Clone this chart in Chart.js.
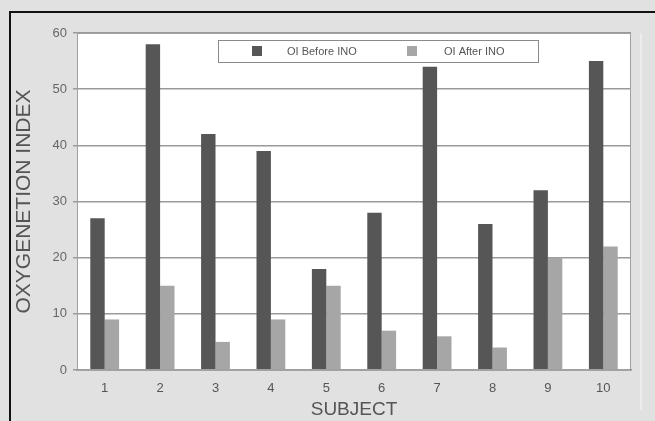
<!DOCTYPE html>
<html>
<head>
    <title>Oxygenation index by subject</title>
    <meta http-equiv="content-type" content="text/html; charset=UTF-8"/>
    <script src="https://cdn.jsdelivr.net/npm/chart.js@4.4.0/dist/chart.umd.min.js"></script>
    <style>
        html, body {
            margin: 0;
            padding: 0;
            background: #e1e1e1;
        }
        #wrap {
            position: absolute;
            left: 0;
            top: 0;
            width: 655px;
            height: 421px;
        }
    </style>
</head>
<body>
<div id="wrap">
    <canvas id="canvas" width="655" height="421"></canvas>
</div>
<script>
    // values
    var subjects = ['1', '2', '3', '4', '5', '6', '7', '8', '9', '10'];
    var oiBefore = [27, 58, 42, 39, 18, 28, 54, 26, 32, 55];
    var oiAfter = [9, 15, 5, 9, 15, 7, 6, 4, 20, 22];
    var seriesNames = ['OI Before INO', 'OI After INO'];
    var yTicks = [0, 10, 20, 30, 40, 50, 60];

    // grey page, black frame, white plot area
    var backdrop = {
        id: 'backdrop',
        beforeDraw: function(chart) {
            var ctx = chart.ctx;
            var a = chart.chartArea;
            ctx.save();
            ctx.fillStyle = '#e1e1e1';
            ctx.fillRect(0, 0, chart.width, chart.height);
            ctx.fillStyle = '#ffffff';
            ctx.fillRect(a.left, a.top, a.right - a.left, a.bottom - a.top);
            ctx.strokeStyle = '#111111';
            ctx.lineWidth = 2;
            ctx.beginPath();
            ctx.moveTo(10, chart.height);
            ctx.lineTo(10, 12);
            ctx.lineTo(chart.width, 12);
            ctx.stroke();
            ctx.strokeStyle = '#ececec';
            ctx.lineWidth = 2;
            ctx.beginPath();
            ctx.moveTo(641, 33);
            ctx.lineTo(641, 410);
            ctx.stroke();
            ctx.restore();
        },
        afterDatasetsDraw: function(chart) {
            var ctx = chart.ctx;
            var a = chart.chartArea;
            ctx.save();
            ctx.strokeStyle = '#a0a0a0';
            ctx.lineWidth = 1;
            ctx.strokeRect(a.left + 0.5, a.top + 0.5, a.right - a.left - 1, a.bottom - a.top - 1);

            // boxed legend
            var bx = 218, by = 40, bw = 320, bh = 22;
            ctx.fillStyle = '#ffffff';
            ctx.fillRect(bx, by, bw, bh);
            ctx.strokeStyle = '#8a8a8a';
            ctx.strokeRect(bx + 0.5, by + 0.5, bw, bh);
            var items = [
                { sq: 252, tx: 287 },
                { sq: 407, tx: 444 }
            ];
            ctx.font = '11px "Liberation Sans", Arial, sans-serif';
            ctx.textBaseline = 'middle';
            chart.data.datasets.forEach(function(ds, i) {
                ctx.fillStyle = ds.backgroundColor;
                ctx.fillRect(items[i].sq, by + 6, 10, 10);
                ctx.fillStyle = '#555555';
                ctx.fillText(ds.label, items[i].tx, by + 11.5);
            });
            ctx.restore();
        }
    };

    var ctx = document.getElementById('canvas').getContext('2d');
    var chart = new Chart(ctx, {
        type: 'bar',
        data: {
            labels: subjects,
            datasets: [
                {
                    label: seriesNames[0],
                    data: oiBefore,
                    backgroundColor: '#565656',
                    borderWidth: 0
                },
                {
                    label: seriesNames[1],
                    data: oiAfter,
                    backgroundColor: '#a6a6a6',
                    borderWidth: 0
                }
            ]
        },
        options: {
            responsive: false,
            animation: false,
            events: [],
            layout: {
                padding: { left: 12, top: 33, right: 24, bottom: 0 }
            },
            datasets: {
                bar: {
                    categoryPercentage: 0.52,
                    barPercentage: 1.0
                }
            },
            plugins: {
                legend: { display: false },
                tooltip: { enabled: false }
            },
            scales: {
                x: {
                    grid: {
                        display: false,
                        drawOnChartArea: false
                    },
                    border: { color: '#888888', width: 1.5 },
                    ticks: {
                        color: '#555555',
                        font: { family: '"Liberation Sans", Arial, sans-serif', size: 13 },
                        padding: 3,
                        maxRotation: 0
                    },
                    title: {
                        display: true,
                        text: 'SUBJECT',
                        color: '#555555',
                        font: { family: '"Liberation Sans", Arial, sans-serif', size: 19 },
                        padding: 0
                    },
                    afterFit: function(scale) {
                        scale.height = 51;
                    }
                },
                y: {
                    min: 0,
                    max: 60,
                    afterBuildTicks: function(scale) {
                        scale.ticks = yTicks.map(function(v) { return { value: v }; });
                    },
                    grid: {
                        color: '#9a9a9a',
                        lineWidth: 1.5,
                        tickLength: 4
                    },
                    border: { display: false },
                    ticks: {
                        color: '#666666',
                        font: { family: '"Liberation Sans", Arial, sans-serif', size: 13 },
                        padding: 6
                    },
                    title: {
                        display: true,
                        text: 'OXYGENETION INDEX',
                        color: '#555555',
                        font: { family: '"Liberation Sans", Arial, sans-serif', size: 21 },
                        padding: 0
                    },
                    afterFit: function(scale) {
                        scale.width = 65;
                    }
                }
            }
        },
        plugins: [backdrop]
    });
</script>
</body>
</html>
